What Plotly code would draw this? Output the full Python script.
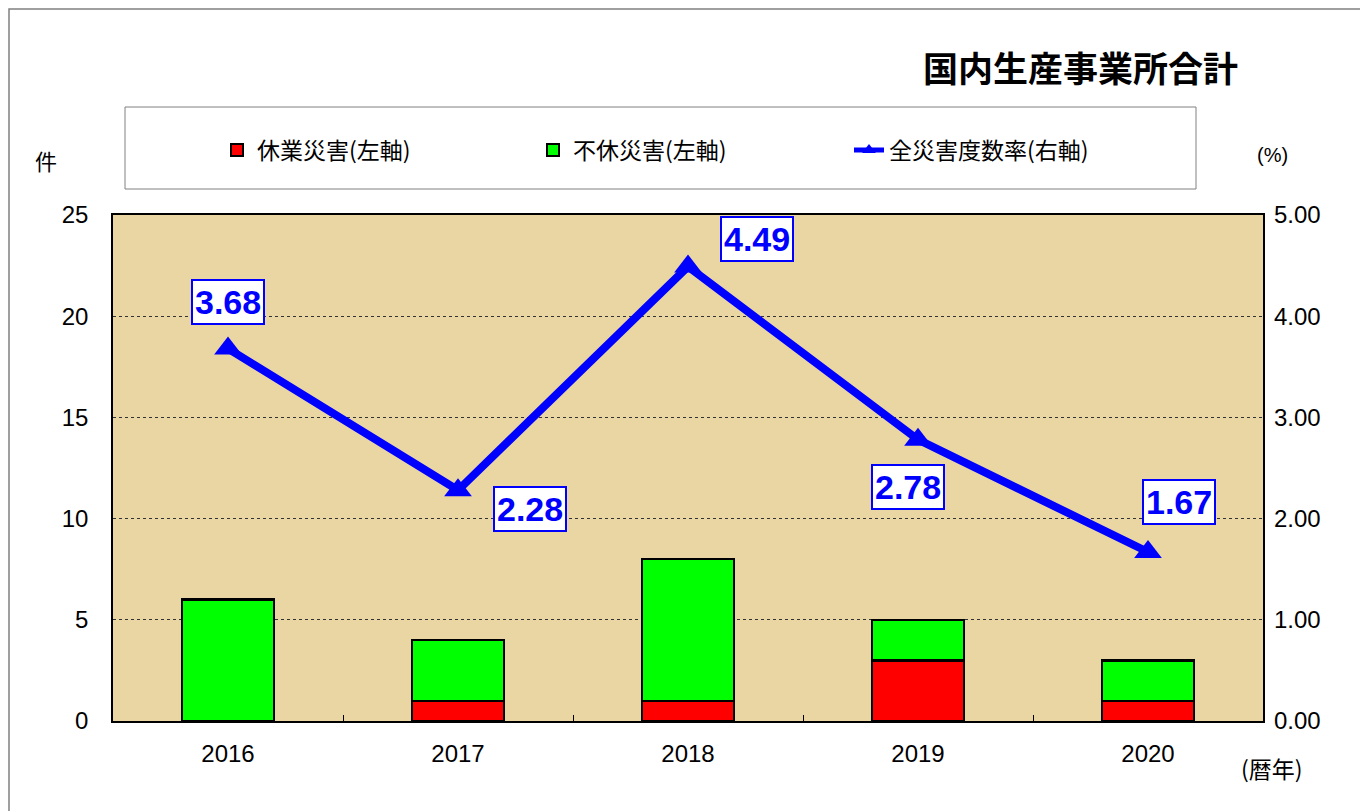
import plotly.graph_objects as go

# data
years = ['2016', '2017', '2018', '2019', '2020']
lost_time = [0, 1, 1, 3, 1]        # 休業災害
no_lost_time = [6, 3, 7, 2, 2]     # 不休災害
rate = [3.68, 2.28, 4.49, 2.78, 1.67]  # 全災害度数率
label_shift = [(0, 47), (72, -19), (69, 28), (-10, -47), (31, 50)]

# page shows the figure 8px in from the top-left corner, so work in screen px
OFF = 8
W, H = 1368 - OFF, 811 - OFF
L, R, T, B = 113, 1263, 215, 721   # plot area on screen
pw, ph = R - L, B - T


def px(x):
    return (x - L) / pw


def py(y):
    return (B - y) / ph


jp = 'Noto Sans CJK JP'
num = 'Liberation Sans, Arial'

fig = go.Figure()

fig.add_trace(go.Bar(
    x=years, y=lost_time, name='休業災害(左軸)',
    marker=dict(color='#FF0000', line=dict(color='black', width=2.5)),
))
fig.add_trace(go.Bar(
    x=years, y=no_lost_time, name='不休災害(左軸)',
    marker=dict(color='#00FF00', line=dict(color='black', width=2.5)),
))
fig.add_trace(go.Scatter(
    x=years, y=rate, name='全災害度数率(右軸)', yaxis='y2',
    mode='lines+markers',
    line=dict(color='#0000FF', width=8),
    marker=dict(symbol='triangle-up', size=24, color='#0000FF'),
))

# value labels
for i, (v, (dx, dy)) in enumerate(zip(rate, label_shift)):
    fig.add_annotation(
        x=i, y=v, yref='y2', text='<b>%.2f</b>' % v, showarrow=False,
        xshift=dx, yshift=dy,
        font=dict(family=num, size=34, color='#0000FF'),
        bgcolor='white', bordercolor='#0000FF', borderwidth=2, borderpad=2,
    )

# titles and unit labels
def label(x, y, text, size, family=jp, anchor='center'):
    fig.add_annotation(x=px(x), y=py(y), xref='paper', yref='paper', text=text,
                       showarrow=False, xanchor=anchor, yanchor='middle',
                       font=dict(family=family, size=size, color='black'))


label(1240, 67, '<b>国内生産事業所合計</b>', 35, anchor='right')
label(46, 160, '件', 22)
label(1272, 155, '(%)', 20, family=num)
label(1272, 768, '(暦年)', 23)

# legend frame and outer frame
fig.add_shape(type='rect', xref='paper', yref='paper',
              x0=px(125), x1=px(1196), y0=py(189), y1=py(107),
              line=dict(color='#808080', width=1), fillcolor='white', layer='below')
fig.add_shape(type='rect', xref='paper', yref='paper',
              x0=px(OFF + 1), x1=px(1362), y0=py(830), y1=py(OFF + 1),
              line=dict(color='#808080', width=1.5), layer='below')

fig.update_layout(
    width=W, height=H,
    margin=dict(l=L - OFF, r=1368 - R, t=T - OFF, b=811 - B, autoexpand=False),
    barmode='stack', bargap=0.6,
    paper_bgcolor='white', plot_bgcolor='#EAD6A2',
    font=dict(family=num, size=24, color='black'),
    legend=dict(orientation='h', x=(217 - OFF) / W, y=1 - (150 - OFF) / H,
                xref='container', yref='container', xanchor='left', yanchor='middle',
                bgcolor='rgba(0,0,0,0)', entrywidth=271, entrywidthmode='pixels',
                font=dict(family=jp, size=23), traceorder='normal', itemsizing='constant'),
    xaxis=dict(type='category', range=[-0.5, 4.5], tickson='boundaries', ticks='inside',
               ticklen=6, tickangle=0, ticklabelstandoff=10,
               tickcolor='black', showline=True, linecolor='black', linewidth=1.5,
               mirror=True, showgrid=False, tickfont=dict(family=num, size=24)),
    yaxis=dict(range=[0, 25], dtick=5, showgrid=True, gridcolor='#333333',
               griddash='dot', gridwidth=1, showline=True, linecolor='black',
               linewidth=1.5, mirror=True, ticks='', zeroline=False,
               ticklabelstandoff=18, tickfont=dict(family=num, size=24)),
    yaxis2=dict(range=[0, 5], dtick=1, tickformat='.2f', overlaying='y', side='right',
                showgrid=False, showline=False, ticks='', zeroline=False,
                ticklabelstandoff=10, tickfont=dict(family=num, size=24)),
)

fig.write_html('out.html')
